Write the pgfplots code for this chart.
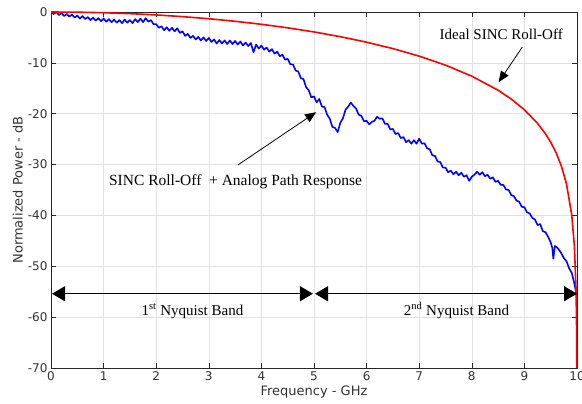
\documentclass[border=0pt]{standalone}
\usepackage{fontspec}
\setmainfont{DejaVu Sans}
\newfontfamily\annfont{Liberation Serif}
\usepackage{pgfplots}
\pgfplotsset{compat=1.18}
\usetikzlibrary{arrows.meta}
\definecolor{gridgray}{RGB}{225,225,225}
\definecolor{labelgray}{RGB}{50,50,50}

\begin{document}
\begin{tikzpicture}
    \begin{axis}[
            scale only axis,
            width = 526bp, height = 356bp,
            xmin = 0, xmax = 10,
            ymin = -70, ymax = 0,
            xtick distance = 1,
            ytick distance = 10,
            grid = major,
            major grid style = {gridgray, line width=0.6pt},
            axis line style = {black!85, line width=0.7pt},
            tick style = {black!85, line width=0.6pt},
            tick align = inside,
            major tick length = 5bp,
            /pgf/number format/assume math mode = true,
            ticklabel style = {font=\fontsize{12bp}{14bp}\selectfont, text=labelgray},
            xlabel = {Frequency - GHz},
            ylabel = {Normalized Power - dB},
            label style = {font=\fontsize{13bp}{15bp}\selectfont, text=labelgray},
            xlabel style = {at={(axis description cs:0.5,-0.068)}, anchor=center},
            ylabel style = {at={(axis description cs:-0.063,0.5)}, anchor=center},
            clip = true,
        ]
        %% measured response (sinc roll-off + analog path)
        \addplot[blue, line width=1.6pt, line join=round] coordinates {
            (0.00,0.3) (0.05,-0.4) (0.10,0.0) (0.15,-0.6) (0.20,-0.2) (0.25,-0.8)
            (0.30,-0.4) (0.35,-0.9) (0.40,-0.5) (0.45,-1.1) (0.50,-0.7) (0.55,-1.3)
            (0.60,-0.8) (0.65,-1.4) (0.70,-1.0) (0.75,-1.6) (0.80,-1.1) (0.85,-1.7)
            (0.90,-1.2) (0.95,-1.8) (1.00,-1.3) (1.05,-1.9) (1.10,-1.4) (1.15,-2.0)
            (1.20,-1.5) (1.25,-2.1) (1.30,-1.6) (1.35,-2.2) (1.40,-1.5) (1.45,-2.1)
            (1.50,-1.6) (1.55,-2.2) (1.60,-1.4) (1.65,-2.0) (1.70,-1.3) (1.75,-2.0)
            (1.80,-1.2) (1.85,-1.9) (1.90,-1.6) (1.95,-2.4) (2.00,-2.4) (2.05,-3.1)
            (2.10,-2.8) (2.15,-3.6) (2.20,-3.0) (2.25,-3.7) (2.30,-3.1) (2.35,-3.8)
            (2.40,-3.2) (2.45,-4.1) (2.50,-3.8) (2.55,-4.7) (2.60,-4.3) (2.65,-5.1)
            (2.70,-4.7) (2.75,-5.4) (2.80,-4.9) (2.85,-5.6) (2.90,-5.0) (2.95,-5.7)
            (3.00,-5.1) (3.05,-5.9) (3.10,-5.4) (3.15,-6.2) (3.20,-5.5) (3.25,-6.2)
            (3.30,-5.6) (3.35,-6.3) (3.40,-5.6) (3.45,-6.3) (3.50,-5.7) (3.55,-6.4)
            (3.60,-5.8) (3.65,-6.6) (3.70,-6.0) (3.75,-6.7) (3.80,-6.1) (3.85,-7.9)
            (3.90,-6.4) (3.95,-7.2) (4.00,-6.6) (4.05,-7.4) (4.10,-7.0) (4.15,-7.8)
            (4.20,-7.3) (4.25,-8.2) (4.30,-7.8) (4.35,-8.7) (4.40,-8.4) (4.45,-9.4)
            (4.50,-9.2) (4.55,-10.3) (4.60,-10.3) (4.65,-11.5) (4.70,-11.7) (4.75,-13.0)
            (4.80,-13.2) (4.85,-14.8) (4.90,-15.4) (4.95,-16.8) (5.00,-16.6) (5.05,-17.8)
            (5.10,-17.1) (5.15,-18.6) (5.20,-18.7) (5.25,-20.2) (5.30,-21.0) (5.35,-22.6)
            (5.40,-22.8) (5.45,-23.6) (5.50,-21.8) (5.55,-20.9) (5.60,-19.2) (5.65,-18.6)
            (5.70,-17.8) (5.75,-18.5) (5.80,-19.0) (5.85,-20.2) (5.90,-20.4) (5.95,-21.5)
            (6.00,-21.4) (6.05,-22.1) (6.10,-21.6) (6.15,-21.4) (6.20,-20.6) (6.25,-21.0)
            (6.30,-20.9) (6.35,-22.0) (6.40,-22.0) (6.45,-23.1) (6.50,-23.0) (6.55,-24.0)
            (6.60,-23.8) (6.65,-24.8) (6.70,-24.6) (6.75,-25.6) (6.80,-25.2) (6.85,-25.9)
            (6.90,-25.2) (6.95,-25.9) (7.00,-24.9) (7.05,-25.9) (7.10,-25.8) (7.15,-26.8)
            (7.20,-27.0) (7.25,-28.2) (7.30,-28.3) (7.35,-29.4) (7.40,-29.5) (7.45,-30.6)
            (7.50,-30.6) (7.55,-31.5) (7.60,-31.2) (7.65,-31.9) (7.70,-31.4) (7.75,-32.1)
            (7.80,-31.6) (7.85,-32.4) (7.90,-32.1) (7.95,-33.2) (8.00,-32.4) (8.05,-32.0)
            (8.10,-31.4) (8.15,-32.0) (8.20,-31.5) (8.25,-32.3) (8.30,-32.0) (8.35,-32.8)
            (8.40,-32.5) (8.45,-33.4) (8.50,-33.2) (8.55,-34.0) (8.60,-34.0) (8.65,-34.9)
            (8.70,-35.0) (8.75,-36.0) (8.80,-36.2) (8.85,-37.1) (8.90,-37.3) (8.95,-38.3)
            (9.00,-38.4) (9.05,-39.4) (9.10,-39.6) (9.15,-40.5) (9.20,-40.8) (9.25,-41.9)
            (9.30,-41.7) (9.35,-43.1) (9.40,-43.3) (9.45,-44.2) (9.50,-45.3) (9.53,-46.4)
            (9.55,-48.5) (9.58,-46.0) (9.62,-46.3) (9.66,-46.8) (9.70,-47.4) (9.75,-48.4)
            (9.80,-49.0) (9.85,-50.4) (9.90,-51.3) (9.95,-53.4) (9.98,-55.0) (10.00,-56.5)
            (10.00,-65.5)
        };
        %% ideal sinc roll-off, fs = 10 GHz
        \addplot[red, line width=1.6pt] coordinates {
            (0,0) (0.5,-0.036) (1,-0.144) (1.5,-0.324) (2,-0.579) (2.5,-0.912)
            (3,-1.326) (3.5,-1.827) (4,-2.420) (4.5,-3.115) (5,-3.922) (5.5,-4.858)
            (6,-5.942) (6.5,-7.203) (7,-8.686) (7.5,-10.454) (8,-12.621) (8.5,-15.390)
            (8.75,-17.126) (9,-19.228) (9.25,-21.902) (9.4,-23.951) (9.5,-25.611)
            (9.6,-27.627) (9.7,-30.206) (9.8,-33.810) (9.9,-39.915) (9.95,-45.98)
            (9.98,-53.96) (9.99,-59.99) (9.995,-66.02) (9.998,-73.98)
        };
        %% nyquist band arrows
        \draw[black, line width=1.3pt, {Triangle[length=13bp,width=15bp]}-{Triangle[length=13bp,width=15bp]}]
            (axis cs:0.02,-55.4) -- (axis cs:4.98,-55.4);
        \draw[black, line width=1.3pt, {Triangle[length=13bp,width=15bp]}-{Triangle[length=13bp,width=15bp]}]
            (axis cs:5.02,-55.4) -- (axis cs:10,-55.4);
        \node[anchor=base, font=\annfont\fontsize{15bp}{17bp}\selectfont] at (axis cs:2.69,-59.6) {1\textsuperscript{st} Nyquist Band};
        \node[anchor=base, font=\annfont\fontsize{15bp}{17bp}\selectfont] at (axis cs:7.71,-59.6) {2\textsuperscript{nd} Nyquist Band};
        %% curve annotations
        \draw[black, line width=0.8pt, -{Triangle[length=11bp,width=9bp]}] (axis cs:3.55,-30.1) -- (axis cs:5.04,-19.7);
        \draw[black, line width=0.8pt, -{Triangle[length=11bp,width=9bp]}] (axis cs:8.96,-6.9) -- (axis cs:8.51,-13.8);
        \node[anchor=base, font=\annfont\fontsize{15.5bp}{17bp}\selectfont] at (axis cs:3.51,-34.2) {SINC Roll-Off\ \ + Analog Path Response};
        \node[anchor=base, font=\annfont\fontsize{15bp}{17bp}\selectfont] at (axis cs:8.56,-5.5) {Ideal SINC Roll-Off};
    \end{axis}
    \pgfresetboundingbox
    \path[use as bounding box] ([shift={(-51bp,-36bp)}]current axis.south west) rectangle ([shift={(5bp,12bp)}]current axis.north east);
\end{tikzpicture}
\end{document}
